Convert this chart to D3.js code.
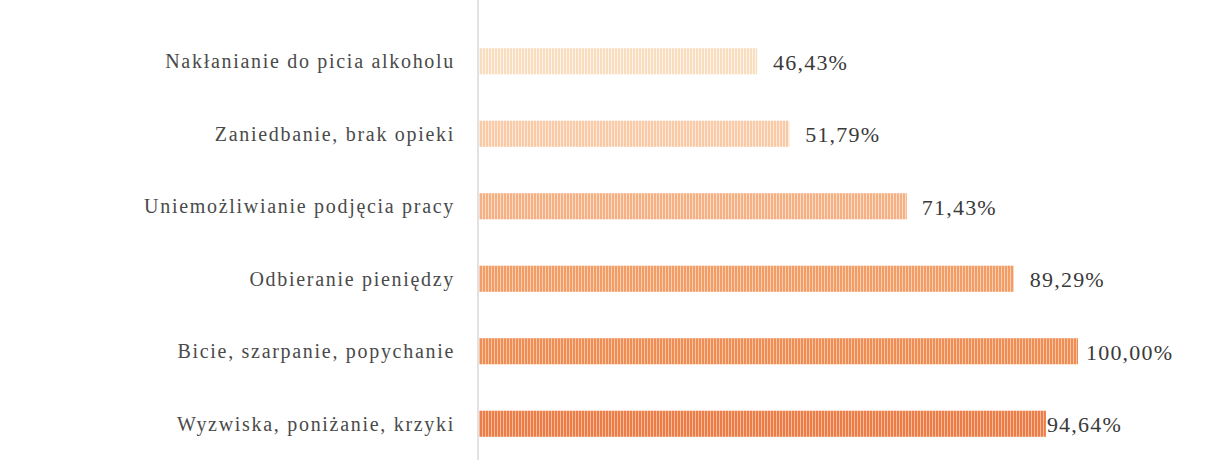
<!DOCTYPE html>
<html>
<head>
<meta charset="utf-8">
<script src="https://cdn.jsdelivr.net/npm/d3@7"></script>
<style>
  body { margin: 0; background: #fff; }
  text { font-family: "Liberation Serif", "DejaVu Serif", serif; fill: #3a3a3a; }
  .cat { font-size: 20px; letter-spacing: 1.7px; fill: #4a4a4a; }
  .val { font-size: 22px; letter-spacing: 1.2px; }
</style>
</head>
<body>
<div class="chart"></div>
<script>
// values, top to bottom
const categories = [
  "Nakłanianie do picia alkoholu",
  "Zaniedbanie, brak opieki",
  "Uniemożliwianie podjęcia pracy",
  "Odbieranie pieniędzy",
  "Bicie, szarpanie, popychanie",
  "Wyzwiska, poniżanie, krzyki"
];
const percents = [46.43, 51.79, 71.43, 89.29, 100.00, 94.64];
const valueLabels = ["46,43%", "51,79%", "71,43%", "89,29%", "100,00%", "94,64%"];

// styling
const barColors = ["#fadcbf", "#f8caa6", "#f5b084", "#f29d66", "#ef8d52", "#ec7d46"];
const lightColors = ["#fef3e8", "#fde8d9", "#fbdac6", "#f9ceb3", "#f8c4a6", "#f6bb9c"];
const labelGap = [16, 16, 15, 16, 8, 1];

const width = 1210, height = 470;
const svg = d3.select(".chart").append("svg")
    .attr("width", width)
    .attr("height", height);

const x = d3.scaleLinear().domain([0, 100]).range([479, 1078]);
const y = d3.scaleBand().domain(categories).range([25, 460]).paddingInner(0.64).paddingOuter(0.32);

// striped fills
const defs = svg.append("defs");
categories.forEach((c, i) => {
    const p = defs.append("pattern")
        .attr("id", "stripe" + i)
        .attr("patternUnits", "userSpaceOnUse")
        .attr("width", 3).attr("height", 10);
    p.append("rect").attr("width", 3).attr("height", 10).attr("fill", lightColors[i]);
    p.append("rect").attr("width", 2).attr("height", 10).attr("fill", barColors[i]);
});

svg.selectAll(".bar")
    .data(categories)
    .enter()
    .append("rect")
    .attr("class", "bar")
    .attr("x", x(0))
    .attr("y", d => y(d))
    .attr("width", (d, i) => x(percents[i]) - x(0))
    .attr("height", y.bandwidth())
    .attr("fill", (d, i) => `url(#stripe${i})`);

// axis line
svg.append("line")
    .attr("x1", x(0) - 1).attr("x2", x(0) - 1)
    .attr("y1", 0).attr("y2", 460)
    .attr("stroke", "#d9d9d9")
    .attr("stroke-width", 1.5);

svg.selectAll(".cat")
    .data(categories)
    .enter()
    .append("text")
    .attr("class", "cat")
    .attr("text-anchor", "end")
    .attr("x", 455)
    .attr("y", d => y(d) + y.bandwidth() / 2)
    .attr("dy", "0.35em")
    .text(d => d);

svg.selectAll(".val")
    .data(categories)
    .enter()
    .append("text")
    .attr("class", "val")
    .attr("x", (d, i) => x(percents[i]) + labelGap[i])
    .attr("y", d => y(d) + y.bandwidth() / 2)
    .attr("dy", "0.38em")
    .text((d, i) => valueLabels[i]);
</script>
</body>
</html>
